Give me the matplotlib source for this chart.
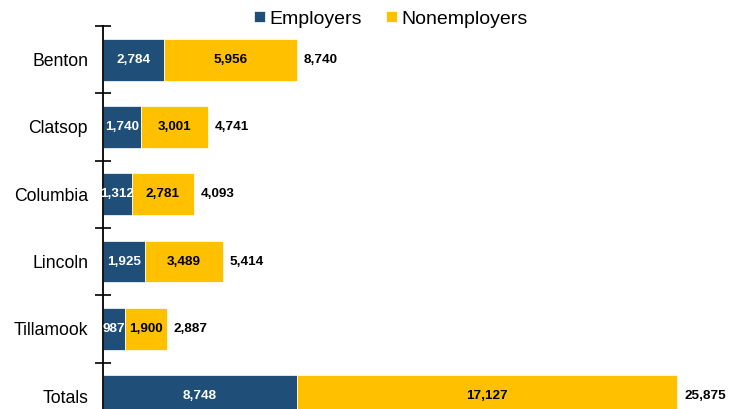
import matplotlib
matplotlib.use("Agg")
import matplotlib.pyplot as plt
import numpy as np

plt.rcParams['font.family'] = ['Liberation Sans', 'DejaVu Sans']

categories = ["Benton", "Clatsop", "Columbia", "Lincoln", "Tillamook", "Totals"]
employers = [2784, 1740, 1312, 1925, 987, 8748]
nonemployers = [5956, 3001, 2781, 3489, 1900, 17127]
totals = [8740, 4741, 4093, 5414, 2887, 25875]

navy = "#1F4E79"
gold = "#FFC000"

fig = plt.figure(figsize=(7.44, 4.09), dpi=100)
ax = fig.add_axes([0.138, -0.0509, 0.862, 0.9873])

y = np.arange(len(categories))
h = 0.62
b1 = ax.barh(y, employers, height=h, color=navy, edgecolor="white", linewidth=0.5, label="Employers")
b2 = ax.barh(y, nonemployers, left=employers, height=h, color=gold, edgecolor="white", linewidth=0.5, label="Nonemployers")

ax.set_xlim(0, 28887)
ax.set_ylim(5.5, -0.5)

for i in range(len(categories)):
    ax.text(employers[i] / 2, y[i], f"{employers[i]:,}", ha="center", va="center",
            color="white", fontsize=9.7, fontweight="bold")
    ax.text(employers[i] + nonemployers[i] / 2, y[i], f"{nonemployers[i]:,}", ha="center", va="center",
            color="black", fontsize=9.7, fontweight="bold")
    ax.annotate(f"{totals[i]:,}", xy=(totals[i], y[i]), xytext=(7, 0), textcoords="offset pixels",
                ha="left", va="center", color="black", fontsize=9.7, fontweight="bold")

for s in ["top", "right", "bottom"]:
    ax.spines[s].set_visible(False)
ax.spines["left"].set_linewidth(1.3)
ax.spines["left"].set_color("black")

ax.set_xticks([])
ax.set_yticks(y)
ax.set_yticklabels(categories, fontsize=12.7)
ax.set_yticks(np.arange(-0.5, len(categories) + 0.5, 1.0), minor=True)
ax.tick_params(axis="y", which="major", length=0, pad=10.5)
ax.tick_params(axis="y", which="minor", direction="inout", length=11, width=1.2, color="black")

fig.legend(handles=[b1, b2], loc="center", bbox_to_anchor=(0.5255, 0.9535), ncol=2,
           frameon=False, fontsize=14, handlelength=0.55, handleheight=0.55,
           handletextpad=0.25, columnspacing=1.25, borderpad=0.0)

fig.savefig("out.png", dpi=100)
